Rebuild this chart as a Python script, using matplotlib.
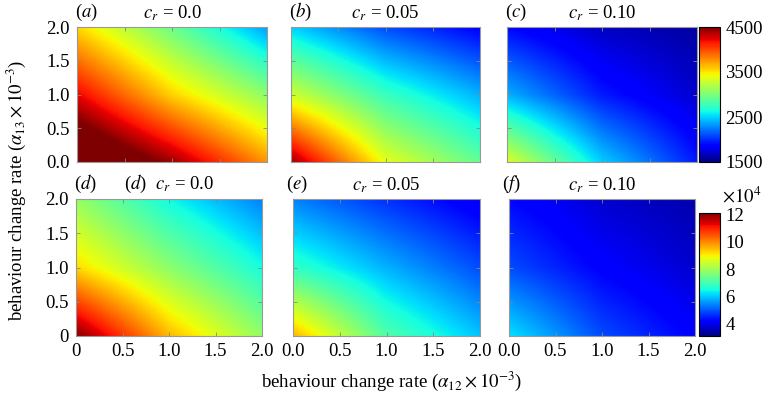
import matplotlib
matplotlib.use("Agg")
import matplotlib.pyplot as plt
import numpy as np

plt.rcParams['font.family'] = ['Liberation Serif', 'DejaVu Serif']
plt.rcParams['mathtext.fontset'] = 'stix'

# grid coordinates (alpha12, alpha13) x 10^-3
alpha12 = [0.0, 1.0, 2.0]
alpha13 = [0.0, 1.0, 2.0]

# top row values (rows: alpha13 = 0, 1, 2; cols: alpha12 = 0, 1, 2)
top_cr00 = [[4950, 4420, 3750],
            [4230, 3560, 3060],
            [3540, 2940, 2340]]
top_cr05 = [[4420, 3390, 2910],
            [3300, 2760, 2400],
            [2490, 2100, 1860]]
top_cr10 = [[3360, 2490, 1950],
            [2400, 1950, 1710],
            [1890, 1680, 1590]]
# bottom row values (x 10^4)
bot_cr00 = [[12.10, 9.55, 7.87],
            [9.20, 7.78, 6.52],
            [7.87, 6.43, 5.35]]
bot_cr05 = [[9.60, 7.15, 5.98],
            [6.80, 5.80, 4.90],
            [5.35, 4.63, 4.00]]
bot_cr10 = [[6.25, 4.90, 4.18],
            [4.90, 4.18, 3.73],
            [4.27, 3.73, 3.46]]

top_titles = ['0.0', '0.05', '0.10']
bot_titles = ['0.0', '0.05', '0.10']
top_labels = ['a', 'b', 'c']
bot_labels = ['d', 'e', 'f']
top_ticks = [1500, 2500, 3500, 4500]
bot_ticks = [4, 6, 8, 10, 12]

W, H = 763, 400
fig = plt.figure(figsize=(W / 100, H / 100), dpi=100)

def ax_px(x0, x1, y0, y1):
    return fig.add_axes([x0 / W, (H - y1) / H, (x1 - x0) / W, (y1 - y0) / H])

FS = 13.5
top_pos = [(77, 267), (291, 480), (507, 697)]
bot_pos = [(76, 262), (293, 480), (509, 695)]
top_data = [top_cr00, top_cr05, top_cr10]
bot_data = [bot_cr00, bot_cr05, bot_cr10]

dx = (alpha12[1] - alpha12[0]) / 2
dy = (alpha13[1] - alpha13[0]) / 2
ext = [alpha12[0] - dx, alpha12[-1] + dx, alpha13[0] - dy, alpha13[-1] + dy]

def draw(ax, d, vmin, vmax):
    return ax.imshow(np.array(d), origin='lower', extent=ext, cmap='jet',
                     vmin=vmin, vmax=vmax, interpolation='bilinear',
                     interpolation_stage='data', aspect='auto')

def style(ax):
    ax.set_xlim(0, 2)
    ax.set_ylim(0, 2)
    ax.set_xticks([0, 0.5, 1.0, 1.5, 2.0])
    ax.set_yticks([0, 0.5, 1.0, 1.5, 2.0])
    ax.tick_params(direction='in', top=True, right=True, length=3,
                   width=0.6, color='#888888', labelsize=FS, pad=5)
    for s in ax.spines.values():
        s.set_color('#999999')
        s.set_linewidth(0.8)

mesh_top = None
for i, ((x0, x1), d) in enumerate(zip(top_pos, top_data)):
    ax = ax_px(x0, x1, 27, 162)
    mesh_top = draw(ax, d, 1500, 4500)
    style(ax)
    ax.set_xticklabels([])
    if i == 0:
        ax.set_yticklabels(['0.0', '0.5', '1.0', '1.5', '2.0'])
    else:
        ax.set_yticklabels([])
    ax.text(-0.01, 1.03, '($%s$)' % top_labels[i], transform=ax.transAxes,
            fontsize=FS, ha='left', va='bottom')
    ax.text(0.5, 1.03, r'$c_r$ = ' + top_titles[i], transform=ax.transAxes,
            fontsize=FS, ha='center', va='bottom')

mesh_bot = None
for i, ((x0, x1), d) in enumerate(zip(bot_pos, bot_data)):
    ax = ax_px(x0, x1, 199, 336)
    mesh_bot = draw(ax, d, 3.1, 12.1)
    style(ax)
    if i == 0:
        ax.set_yticklabels(['0', '0.5', '1.0', '1.5', '2.0'])
        ax.set_xticklabels(['0', '0.5', '1.0', '1.5', '2.0'])
        ax.text(-0.01, 1.03, '($d$)', transform=ax.transAxes,
                fontsize=FS, ha='left', va='bottom')
        ax.text(0.5, 1.03, r'($d$)  $c_r$ = ' + bot_titles[i], transform=ax.transAxes,
                fontsize=FS, ha='center', va='bottom')
    else:
        ax.set_yticklabels([])
        ax.set_xticklabels(['0.0', '0.5', '1.0', '1.5', '2.0'])
        ax.text(-0.04, 1.03, '($%s$)' % bot_labels[i], transform=ax.transAxes,
                fontsize=FS, ha='left', va='bottom')
        ax.text(0.5, 1.03, r'$c_r$ = ' + bot_titles[i], transform=ax.transAxes,
                fontsize=FS, ha='center', va='bottom')

cax1 = ax_px(699, 720, 27, 162)
cb1 = fig.colorbar(mesh_top, cax=cax1, ticks=top_ticks)
cb1.ax.tick_params(length=0, labelsize=FS, pad=4)
cb1.outline.set_linewidth(0.8)

cax2 = ax_px(699, 720, 213, 336)
cb2 = fig.colorbar(mesh_bot, cax=cax2, ticks=bot_ticks)
cb2.ax.tick_params(length=0, labelsize=FS, pad=4)
cb2.outline.set_linewidth(0.8)
fig.text(722 / W, (H - 196) / H, r'$\times10^4$', fontsize=FS, ha='left', va='center')

fig.text(16 / W, (H - 190) / H, r'behaviour change rate ($\alpha_{13}\times10^{-3}$)',
         rotation=90, fontsize=FS, ha='center', va='center')
fig.text(392 / W, (H - 381) / H, r'behaviour change rate ($\alpha_{12}\times10^{-3}$)',
         fontsize=FS, ha='center', va='center')

fig.savefig('out.png', dpi=100)
